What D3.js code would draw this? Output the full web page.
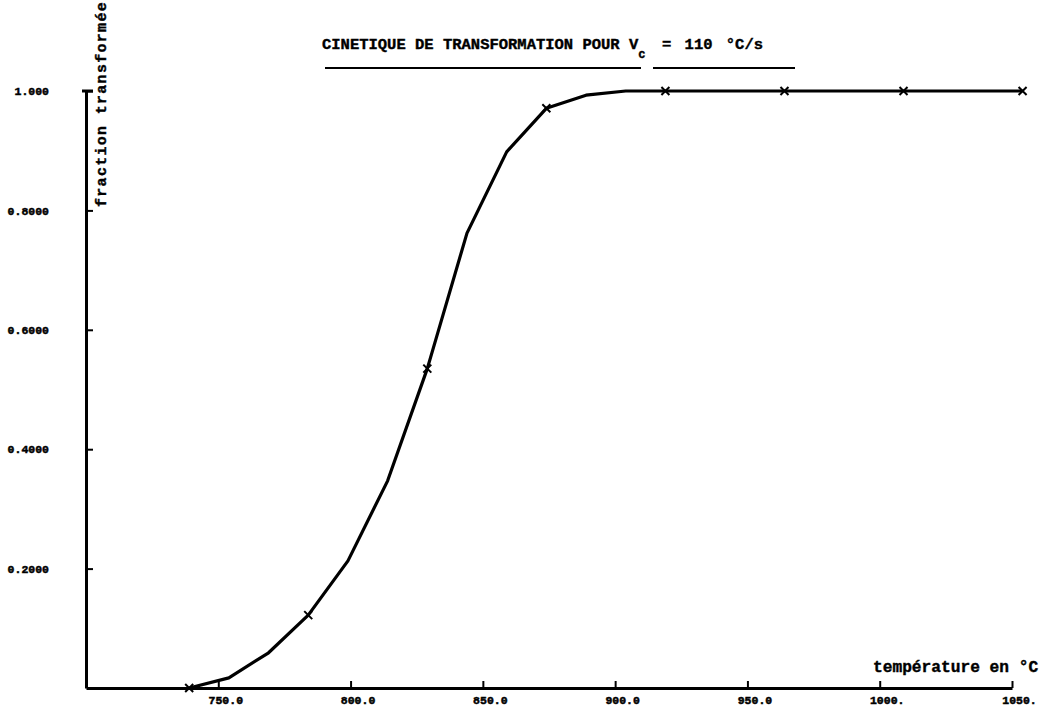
<!DOCTYPE html>
<html>
<head>
<meta charset="utf-8">
<script src="https://cdn.jsdelivr.net/npm/d3@7"></script>
<style>
  html, body { margin: 0; padding: 0; background: #fff; }
  svg { display: block; }
  text { font-family: "Liberation Mono", "DejaVu Sans Mono", monospace; font-weight: bold; fill: #000; }
</style>
</head>
<body>
<svg id="chart" width="1048" height="708"></svg>
<script>
// Transformation kinetics at a heating rate of 110 °C/s
const temperatures = [739, 754, 769, 784, 799, 814, 829, 844, 859, 874, 889, 904, 919,
                      934, 949, 964, 979, 994, 1009, 1024, 1039, 1054];
const fractions    = [0.0, 0.017, 0.059, 0.122, 0.213, 0.347, 0.535, 0.762, 0.898, 0.971, 0.993, 1.0, 1.0,
                      1.0, 1.0, 1.0, 1.0, 1.0, 1.0, 1.0, 1.0, 1.0];
// every third computed point carries a cross marker
const markedTemps  = [739, 784, 829, 874, 919, 964, 1009, 1054];

const xTicks = [750, 800, 850, 900, 950, 1000, 1050];
const xTickLabels = ["750.0", "800.0", "850.0", "900.0", "950.0", "1000.", "1050."];
const yTicks = [0.2, 0.4, 0.6, 0.8, 1.0];
const yTickLabels = ["0.2000", "0.4000", "0.6000", "0.8000", "1.000"];

const svg = d3.select("#chart");

const x = d3.scaleLinear().domain([700, 1050]).range([86, 1012]);
const y = d3.scaleLinear().domain([0, 1]).range([688, 91]);

// x axis: ticks point upward, labels a little right of each tick
const xAxis = d3.axisBottom(x)
  .tickValues(xTicks)
  .tickFormat((d, i) => xTickLabels[i])
  .tickSizeInner(-7)
  .tickSizeOuter(0)
  .tickPadding(4);

const gx = svg.append("g").attr("transform", `translate(0,${y(0)})`).call(xAxis);
gx.select(".domain").attr("stroke", "#000").attr("stroke-width", 3);
gx.selectAll(".tick line").attr("stroke", "#000").attr("stroke-width", 2);
gx.selectAll(".tick text")
  .attr("y", 8)
  .attr("dy", "0.71em")
  .attr("x", 7)
  .attr("stroke", "#000").attr("stroke-width", 0.5)
  .style("font-size", "11.5px");

// y axis: ticks point right, labels right-aligned well to the left
const yAxis = d3.axisLeft(y)
  .tickValues(yTicks)
  .tickFormat((d, i) => yTickLabels[i])
  .tickSizeInner(-7)
  .tickSizeOuter(0)
  .tickPadding(37);

const gy = svg.append("g").attr("transform", `translate(${x(700)},0)`).call(yAxis);
gy.select(".domain").attr("stroke", "#000").attr("stroke-width", 3);
gy.selectAll(".tick line").attr("stroke", "#000").attr("stroke-width", 2);
gy.selectAll(".tick text")
  .attr("stroke", "#000").attr("stroke-width", 0.5)
  .style("font-size", "11.5px");

// small cap at the top of the vertical axis
svg.append("line")
  .attr("x1", x(700) - 4).attr("x2", x(700) + 7)
  .attr("y1", y(1)).attr("y2", y(1))
  .attr("stroke", "#000").attr("stroke-width", 3);

// curve
const pts = temperatures.map((t, i) => [t, fractions[i]]);
const line = d3.line().x(d => x(d[0])).y(d => y(d[1]));
svg.append("path")
  .datum(pts)
  .attr("d", line)
  .attr("fill", "none")
  .attr("stroke", "#000")
  .attr("stroke-width", 3.2)
  .attr("stroke-linejoin", "round");

// cross markers
const marked = pts.filter(d => markedTemps.includes(d[0]));
const cross = svg.append("g");
marked.forEach(d => {
  const cx = x(d[0]), cy = y(d[1]), s = 4;
  cross.append("path")
    .attr("d", `M${cx - s},${cy - s}L${cx + s},${cy + s}M${cx - s},${cy + s}L${cx + s},${cy - s}`)
    .attr("stroke", "#000").attr("stroke-width", 2);
});

// title with subscript
const title = svg.append("text")
  .attr("x", 322).attr("y", 49)
  .attr("stroke", "#000").attr("stroke-width", 0.4)
  .style("font-size", "15.5px");
title.append("tspan").text("CINETIQUE DE TRANSFORMATION POUR V");
title.append("tspan").attr("dy", 9).style("font-size", "12px").text("c");
title.append("tspan").attr("x", 662).attr("dy", -9).style("word-spacing", "4px").text("= 110 °C/s");

svg.append("line")
  .attr("x1", 325).attr("x2", 641).attr("y1", 68).attr("y2", 68)
  .attr("stroke", "#000").attr("stroke-width", 2);
svg.append("line")
  .attr("x1", 653).attr("x2", 795).attr("y1", 68).attr("y2", 68)
  .attr("stroke", "#000").attr("stroke-width", 2);

// axis titles
svg.append("text")
  .attr("transform", "translate(106,207) rotate(-90)")
  .attr("stroke", "#000").attr("stroke-width", 0.4)
  .style("font-size", "15px")
  .style("letter-spacing", "1.3px")
  .text("fraction transformée");

svg.append("text")
  .attr("x", 873).attr("y", 672)
  .attr("stroke", "#000").attr("stroke-width", 0.4)
  .style("font-size", "16.2px")
  .text("température en °C");
</script>
</body>
</html>
